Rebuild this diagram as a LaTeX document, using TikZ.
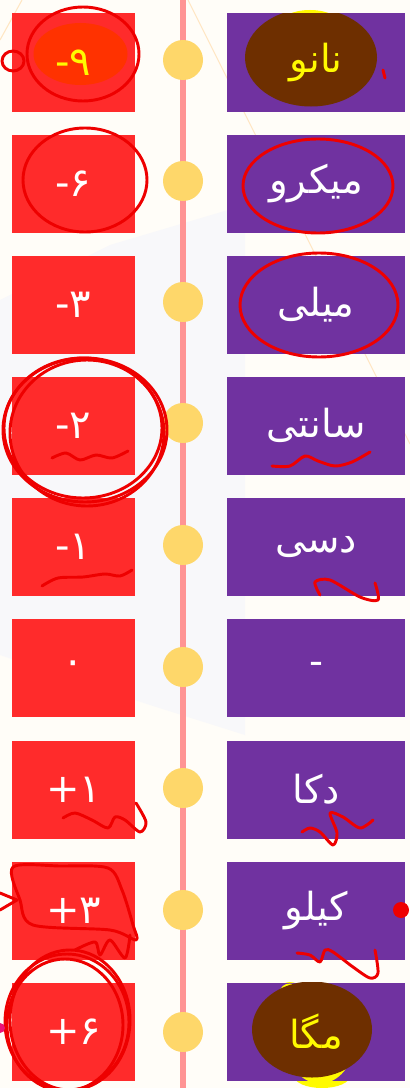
\documentclass[tikz,border=0pt]{standalone}
\usepackage{fontspec}
\newfontfamily\arabicfont[Script=Arabic]{DejaVu Sans}
\TeXXeTstate=1
\usepackage{tikz}
\usetikzlibrary{calc}

\definecolor{PrefixRed}   {RGB}{255, 43,  43}
\definecolor{PrefixPurple}{RGB}{112, 50,  160}
\definecolor{KnobYellow}  {RGB}{254, 215, 106}
\definecolor{SpinePink}   {RGB}{255, 148, 148}
\definecolor{PaperColor}  {RGB}{255, 253, 248}
\definecolor{ShadeGray}   {RGB}{248, 248, 250}
\definecolor{FaintLine}   {RGB}{255, 230, 195}
\definecolor{PenRed}      {RGB}{238, 0,   0}
\definecolor{MarkBrown}   {RGB}{110, 47,  0}
\definecolor{MarkOrange}  {RGB}{255, 50,  0}
\definecolor{MarkYellow}  {RGB}{255, 250, 0}
\definecolor{MarkPink}    {RGB}{235, 20,  120}

\begin{document}
\begin{tikzpicture}[
  x=0.75pt, y=-0.75pt,
  expbox/.style = {
    rectangle, inner sep=0pt,
    minimum width=92.25pt, minimum height=73.5pt,
    fill=PrefixRed, text=white,
    font=\arabicfont\fontsize{30}{34}\selectfont
  },
  namebox/.style = {
    rectangle, inner sep=0pt,
    minimum width=133.5pt, minimum height=73.5pt,
    fill=PrefixPurple, text=white,
    font=\arabicfont\fontsize{29}{33}\selectfont
  },
  knob/.style = {
    circle, inner sep=0pt, minimum size=30pt,
    fill=KnobYellow
  },
  spine/.style = {line width=4.5pt, color=SpinePink},
  pen/.style = {PenRed, line width=2.2pt, line cap=round, line join=round}
]

% Paper
\useasboundingbox (0,0) rectangle (410,1088);
\fill[PaperColor] (0,0) rectangle (410,1088);
\fill[ShadeGray] (0,300) -- (110,245) -- (245,205) -- (245,735) -- (150,705) -- (0,655) -- cycle;
\draw[FaintLine, line width=0.8pt] (0,40) -- (22,0);
\draw[FaintLine, line width=0.8pt] (188,0) -- (410,444);

% Timeline
\coordinate (spinetop) at (183,0);
\coordinate (spinebot) at (183,1088);
\draw[spine] (spinetop) -- (spinebot);

% Yellow marker peeking out of the boxes
\fill[MarkYellow] (310,24) ellipse [x radius=30, y radius=14];
\fill[MarkYellow] (290,990) ellipse [x radius=10, y radius=8];
\fill[MarkYellow] (322,1076) ellipse [x radius=28, y radius=12];

% Nano
\node[expbox, text=MarkYellow, path picture={
    \fill[MarkOrange] ([shift={(7,-8.5)}]path picture bounding box.center)
      ellipse [x radius=47, y radius=31];}] (e-nano) at (73.5,62.5) {-\kern0pt۹};
\node[knob] (k-nano) at (183,60) {};
\node[namebox, text=MarkYellow, path picture={
    \fill[MarkBrown] ([shift={(-5,-5)}]path picture bounding box.center)
      ellipse [x radius=66, y radius=49];}] (p-nano) at (316,62.5)
  {\beginR نانو\endR};

% Micro
\node[expbox] (e-micro) at (73.5,183.5) {-\kern0pt۶};
\node[knob] (k-micro) at (183,181) {};
\node[namebox] (p-micro) at (316,183.5) {\beginR میکرو\endR};

% Milli
\node[expbox] (e-milli) at (73.5,304.5) {-\kern0pt۳};
\node[knob] (k-milli) at (183,302) {};
\node[namebox] (p-milli) at (316,304.5) {\beginR میلی\endR};

% Centi
\node[expbox] (e-centi) at (73.5,425.5) {-\kern0pt۲};
\node[knob] (k-centi) at (183,423) {};
\node[namebox] (p-centi) at (316,425.5) {\beginR سانتی\endR};

% Deci
\node[expbox] (e-deci) at (73.5,547) {-\kern0pt۱};
\node[knob] (k-deci) at (183,545) {};
\node[namebox] (p-deci) at (316,547) {\beginR دسی\endR};

% Base
\node[expbox] (e-base) at (73.5,668) {۰};
\node[knob] (k-base) at (183,667) {};
\node[namebox] (p-base) at (316,668) {-};

% Deca
\node[expbox] (e-deca) at (73.5,789.5) {+\kern0pt۱};
\node[knob] (k-deca) at (183,788) {};
\node[namebox] (p-deca) at (316,789.5) {\beginR دکا\endR};

% Kilo
\node[expbox] (e-kilo) at (73.5,910.5) {+\kern0pt۳};
\node[knob] (k-kilo) at (183,910) {};
\node[namebox] (p-kilo) at (316,910.5) {\beginR کیلو\endR};

% Mega
\node[expbox] (e-mega) at (73.5,1031.5) {+\kern0pt۶};
\node[knob] (k-mega) at (183,1032) {};
\node[namebox, text=MarkYellow, path picture={
    \fill[MarkYellow] ([shift={(4,10)}]path picture bounding box.center)
      ellipse [x radius=34, y radius=42];
    \fill[MarkYellow] ([shift={(-26,-40)}]path picture bounding box.center)
      ellipse [x radius=10, y radius=8];
    \fill[MarkBrown] ([shift={(-4,-2)}]path picture bounding box.center)
      ellipse [x radius=60, y radius=48];}] (p-mega) at (316,1031.5)
  {\beginR مگا\endR};

% Pen marks
\draw[pen] (83,54) ellipse [x radius=56, y radius=47];
\draw[pen] (13,61) ellipse [x radius=11, y radius=10];
\draw[pen] (383,70) -- (385,78);

\draw[pen] (85,180) ellipse [x radius=62, y radius=52];
\draw[pen] (318,186) ellipse [x radius=75, y radius=47];

\draw[pen] (319,305) ellipse [x radius=79, y radius=52];

\draw[pen] (85,430) ellipse [x radius=82, y radius=72];
\draw[pen] (83,428) ellipse [x radius=79, y radius=70];
\draw[pen] (87,433) ellipse [x radius=77, y radius=73];
\draw[pen] plot[smooth] coordinates {(52,458) (66,453) (80,460) (96,455) (112,458) (128,451)};
\draw[pen] plot[smooth] coordinates {(272,466) (290,466) (305,456) (318,461) (335,466) (352,462) (370,452)};

\draw[pen] plot[smooth] coordinates {(42,586) (58,578) (83,577) (105,574) (120,576) (132,570)};
\draw[pen] plot[smooth] coordinates {(320,595) (315,582) (330,580) (360,597) (378,600) (375,583)};

\draw[pen] plot[smooth] coordinates {(63,818) (75,813) (92,820) (108,828) (115,817) (125,820) (140,832) (146,822) (136,803)};
\draw[pen] plot[smooth] coordinates {(302,832) (310,828) (320,832) (333,845) (337,833) (330,813) (343,817) (360,828) (373,820)};

\draw[pen] plot[smooth cycle, tension=0.5] coordinates {(13,867) (60,866) (108,868) (122,890) (133,925) (136,940) (110,930) (33,925) (20,900)};
\draw[pen] plot[smooth] coordinates {(75,950) (95,942) (100,955) (110,940) (125,958) (130,935)};
\draw[pen] (0,893) -- (17,900) -- (0,910);
\fill[PenRed] (401,910) circle [radius=8];
\draw[pen] plot[smooth] coordinates {(297,953) (310,955) (320,962) (325,950) (333,952) (353,967) (370,978) (378,973) (375,950)};

\draw[pen] (67,1022) ellipse [x radius=62, y radius=68];
\draw[pen] (65,1025) ellipse [x radius=58, y radius=66];
\draw[pen] (70,1020) ellipse [x radius=60, y radius=70];
\fill[MarkPink] (0,1028) circle [radius=5];

\end{tikzpicture}
\end{document}
